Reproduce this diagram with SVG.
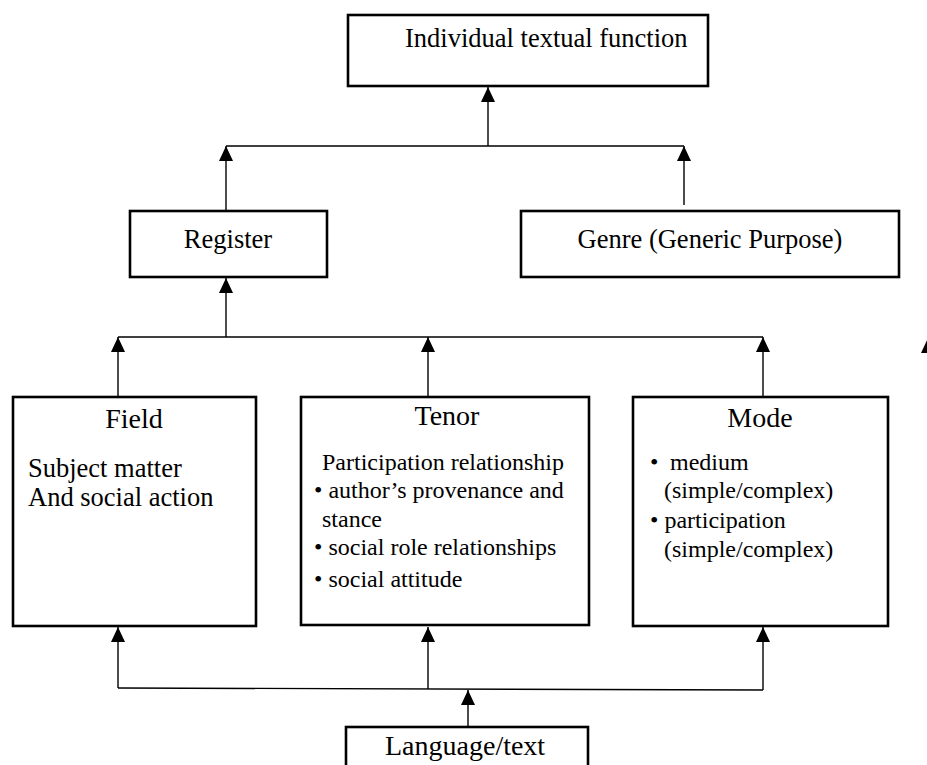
<svg xmlns="http://www.w3.org/2000/svg" width="927" height="765" viewBox="0 0 927 765">
<defs>
<marker id="ah" viewBox="0 0 15 14" refX="15" refY="7" markerWidth="15" markerHeight="14" markerUnits="userSpaceOnUse" orient="auto">
<path d="M0,0 L15,7 L0,14 Z" fill="#000"/>
</marker>
<style>
.box{fill:#fff;stroke:#000;stroke-width:2.6}
.ln{fill:none;stroke:#000;stroke-width:1.4}
.arr{fill:none;stroke:#000;stroke-width:1.4;marker-end:url(#ah)}
text{font-family:"Liberation Serif","Times New Roman",serif;fill:#000}
.t28{font-size:28px}
.t26{font-size:26.5px}
.t24{font-size:24px}
</style>
</defs>
<rect width="927" height="765" fill="#fff"/>
<g id="connectors">
<line class="ln" x1="226" y1="146" x2="684" y2="146"/>
<line class="arr" x1="488" y1="146" x2="488" y2="87"/>
<line class="arr" x1="226" y1="211" x2="226" y2="146"/>
<line class="arr" x1="684" y1="205" x2="684" y2="146"/>
<line class="arr" x1="226" y1="337" x2="226" y2="278"/>
<line class="ln" x1="118" y1="337" x2="763" y2="337"/>
<line class="arr" x1="118" y1="397" x2="118" y2="337"/>
<line class="arr" x1="428" y1="397" x2="428" y2="337"/>
<line class="arr" x1="763" y1="397" x2="763" y2="337"/>
<polyline class="ln" points="118,688 763,690"/>
<line class="arr" x1="118" y1="688" x2="118" y2="627"/>
<line class="arr" x1="428" y1="689" x2="428" y2="627"/>
<line class="arr" x1="763" y1="690" x2="763" y2="627"/>
<line class="arr" x1="468" y1="727" x2="468" y2="690"/>
<polygon points="921,353 928,338 935,353" fill="#000"/>
</g>
<g id="individual-textual-function">
<rect class="box" x="348" y="15" width="360" height="71"/>
<text class="t26" x="405" y="47">Individual textual function</text>
</g>
<g id="register">
<rect class="box" x="130" y="211" width="197" height="66"/>
<text class="t26" x="228" y="248" text-anchor="middle">Register</text>
</g>
<g id="genre">
<rect class="box" x="521" y="211" width="378" height="66"/>
<text class="t26" x="710" y="248" text-anchor="middle">Genre (Generic Purpose)</text>
</g>
<g id="field">
<rect class="box" x="13" y="397" width="243" height="229"/>
<text class="t28" x="134" y="428" text-anchor="middle">Field</text>
<text class="t26" x="28" y="477">Subject matter</text>
<text class="t26" x="28" y="506">And social action</text>
</g>
<g id="tenor">
<rect class="box" x="301" y="397" width="288" height="228"/>
<text class="t28" x="447" y="425" text-anchor="middle">Tenor</text>
<text class="t24" x="322" y="470">Participation relationship</text>
<text class="t24" x="314" y="498">• author’s provenance and</text>
<text class="t24" x="322" y="527">stance</text>
<text class="t24" x="314" y="555">• social role relationships</text>
<text class="t24" x="314" y="587">• social attitude</text>
</g>
<g id="mode">
<rect class="box" x="633" y="397" width="255" height="229"/>
<text class="t28" x="760" y="427" text-anchor="middle">Mode</text>
<text class="t24" x="650" y="470">•</text>
<text class="t24" x="670" y="470">medium</text>
<text class="t24" x="664" y="498">(simple/complex)</text>
<text class="t24" x="650" y="528">• participation</text>
<text class="t24" x="664" y="557">(simple/complex)</text>
</g>
<g id="language-text">
<rect class="box" x="346" y="727" width="242" height="60"/>
<text class="t28" x="385" y="755">Language/text</text>
</g>
</svg>
